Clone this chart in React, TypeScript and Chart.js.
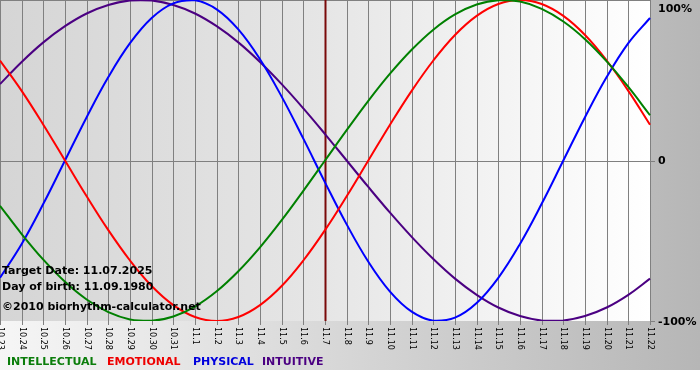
import React, { useEffect, useRef } from "react";
import { Chart, registerables } from "chart.js";

Chart.register(...registerables);

const dayLabels = [
  "10.23", "10.24", "10.25", "10.26", "10.27", "10.28", "10.29", "10.30", "10.31",
  "11.1", "11.2", "11.3", "11.4", "11.5", "11.6", "11.7", "11.8", "11.9", "11.10",
  "11.11", "11.12", "11.13", "11.14", "11.15", "11.16", "11.17", "11.18", "11.19",
  "11.20", "11.21", "11.22",
];

const intellectual = [
  -0.282, -0.458, -0.618, -0.756, -0.866, -0.945, -0.99, -0.999, -0.972, -0.91,
  -0.815, -0.69, -0.541, -0.372, -0.189, 0, 0.189, 0.372, 0.541, 0.69, 0.815,
  0.91, 0.972, 0.999, 0.99, 0.945, 0.866, 0.756, 0.618, 0.458, 0.282,
];

const emotional = [
  0.623, 0.434, 0.223, 0, -0.223, -0.434, -0.623, -0.782, -0.901, -0.975, -1.0,
  -0.975, -0.901, -0.782, -0.623, -0.434, -0.223, 0, 0.223, 0.434, 0.623, 0.782,
  0.901, 0.975, 1.0, 0.975, 0.901, 0.782, 0.623, 0.434, 0.223,
];

const physical = [
  -0.731, -0.52, -0.27, 0, 0.27, 0.52, 0.731, 0.888, 0.979, 0.998, 0.942, 0.817,
  0.631, 0.398, 0.136, -0.136, -0.398, -0.631, -0.817, -0.942, -0.998, -0.979,
  -0.888, -0.731, -0.52, -0.27, 0, 0.27, 0.52, 0.731, 0.888,
];

const intuitive = [
  0.476, 0.614, 0.736, 0.837, 0.916, 0.969, 0.997, 0.997, 0.969, 0.916, 0.837,
  0.736, 0.614, 0.476, 0.325, 0.165, 0, -0.165, -0.325, -0.476, -0.614, -0.736,
  -0.837, -0.916, -0.969, -0.997, -0.997, -0.969, -0.916, -0.837, -0.736,
];

const yTickValues = [1, 0, -1];
const yTickLabels = ["100%", "0", "-100%"];
const targetLabel = "11.7";
const infoLines = [
  "Target Date: 11.07.2025",
  "Day of birth: 11.09.1980",
  "\u00A92010 biorhythm-calculator.net",
];
const legendNames = ["INTELLECTUAL", "EMOTIONAL", "PHYSICAL", "INTUITIVE"];
const seriesColors = ["#008000", "#ff0000", "#0000ff", "#4b0082"];
const legendColors = ["#0b7d0b", "#ee0000", "#0000dd", "#4b0082"];

const bgPlugin = {
  id: "bioBackground",
  beforeDraw(chart: any) {
    const { ctx, chartArea } = chart;
    const W = chart.width;
    const H = chart.height;
    ctx.save();
    ctx.fillStyle = "#ffffff";
    ctx.fillRect(0, 0, W, H);
    const g = ctx.createLinearGradient(0, 0, W, 0);
    g.addColorStop(0, "#f6f6f6");
    g.addColorStop(1, "#b6b6b6");
    ctx.fillStyle = g;
    ctx.fillRect(0, 0, W, 370);
    const pg = ctx.createLinearGradient(chartArea.left, 0, chartArea.right, 0);
    pg.addColorStop(0, "#d5d5d5");
    pg.addColorStop(0.5, "#e6e6e6");
    pg.addColorStop(1, "#ffffff");
    ctx.fillStyle = pg;
    ctx.fillRect(chartArea.left, chartArea.top, chartArea.right - chartArea.left, chartArea.bottom - chartArea.top);

    const xs = chart.scales.x;
    const ys = chart.scales.y;
    ctx.strokeStyle = "#808080";
    ctx.lineWidth = 1;
    ctx.beginPath();
    for (let i = 0; i < dayLabels.length; i++) {
      const x = Math.round(xs.getPixelForValue(i)) + 0.5;
      ctx.moveTo(x, chartArea.top);
      ctx.lineTo(x, chartArea.bottom + 4);
    }
    const y0 = Math.round(ys.getPixelForValue(0)) + 0.5;
    ctx.moveTo(chartArea.left, y0);
    ctx.lineTo(chartArea.right + 5, y0);
    ctx.moveTo(chartArea.left, chartArea.top + 0.5);
    ctx.lineTo(chartArea.right, chartArea.top + 0.5);
    ctx.moveTo(chartArea.right, chartArea.bottom + 0.5);
    ctx.lineTo(chartArea.right + 5, chartArea.bottom + 0.5);
    ctx.stroke();

    const ti = dayLabels.indexOf(targetLabel);
    const tx = Math.round(xs.getPixelForValue(ti)) + 0.5;
    ctx.strokeStyle = "#7a0a0a";
    ctx.lineWidth = 2;
    ctx.beginPath();
    ctx.moveTo(tx, chartArea.top);
    ctx.lineTo(tx, chartArea.bottom);
    ctx.stroke();
    ctx.restore();
  },
  afterDatasetsDraw(chart: any) {
    const { ctx, chartArea } = chart;
    const xs = chart.scales.x;
    const ys = chart.scales.y;
    ctx.save();
    // info text
    ctx.font = "bold 11px 'DejaVu Sans'";
    ctx.fillStyle = "#000000";
    ctx.textAlign = "left";
    ctx.textBaseline = "middle";
    const infoY = [271, 287, 307];
    infoLines.forEach((t, i) => ctx.fillText(t, 2, infoY[i]));

    // x tick labels (rotated clockwise)
    ctx.font = "8px 'DejaVu Sans'";
    for (let i = 0; i < dayLabels.length; i++) {
      const x = xs.getPixelForValue(i);
      ctx.save();
      ctx.translate(x, chartArea.bottom + 6);
      ctx.rotate(Math.PI / 2);
      ctx.textAlign = "left";
      ctx.textBaseline = "middle";
      ctx.fillText(dayLabels[i], 0, 0);
      ctx.restore();
    }

    // y labels
    ctx.font = "bold 11px 'DejaVu Sans'";
    ctx.textAlign = "left";
    ctx.textBaseline = "middle";
    yTickValues.forEach((v, i) => {
      let y = ys.getPixelForValue(v);
      if (v === 1) y += 8;
      ctx.fillText(yTickLabels[i], chartArea.right + 8, y + 1);
    });

    // legend
    const lx = [7, 107, 193, 262];
    legendNames.forEach((n, i) => {
      ctx.fillStyle = legendColors[i];
      ctx.fillText(n, lx[i], 362);
    });
    ctx.restore();
  },
};

export default function App() {
  const ref = useRef<HTMLCanvasElement | null>(null);
  useEffect(() => {
    document.body.style.margin = "0";
    const canvas = ref.current;
    if (!canvas) return;
    const series = [intellectual, emotional, physical, intuitive];
    const chart = new Chart(canvas, {
      type: "line",
      data: {
        labels: dayLabels,
        datasets: series.map((d, i) => ({
          label: legendNames[i],
          data: d,
          borderColor: seriesColors[i],
          borderWidth: 2,
          pointRadius: 0,
          tension: 0.4,
          fill: false,
        })),
      },
      options: {
        animation: false,
        responsive: false,
        devicePixelRatio: 1,
        layout: { padding: { left: 0, top: 0, right: 50, bottom: 59 } },
        scales: {
          x: { display: false, offset: false },
          y: { display: false, min: -1, max: 1 },
        },
        plugins: { legend: { display: false }, tooltip: { enabled: false } },
      },
      plugins: [bgPlugin],
    });
    return () => chart.destroy();
  }, []);
  return (
    <div style={{ position: "fixed", left: 0, top: 0, width: 700, height: 380 }}>
      <canvas ref={ref} width={700} height={380} />
    </div>
  );
}
